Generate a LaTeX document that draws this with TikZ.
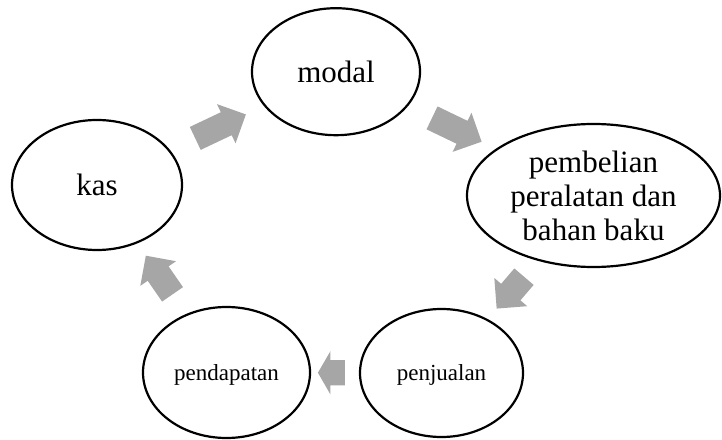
\documentclass[tikz,border=0pt]{standalone}
\usepackage{fontspec}
\setmainfont{Liberation Serif}
\usepackage{tikz}
\usetikzlibrary{shapes.geometric}
\usetikzlibrary{shapes.arrows}
\definecolor{arrowgray}{RGB}{166,166,166}

\begin{document}
\begin{tikzpicture}[x=1pt, y=1pt,
  phase/.style={ellipse, draw=black, line width=2.2pt, inner sep=0pt, align=center, font=\fontsize{31}{34}\selectfont},
  phase_small/.style={phase, text depth=0pt, font=\fontsize{23}{26}\selectfont},
  turn/.style={single arrow, draw=none, fill=arrowgray, inner xsep=0pt, inner ysep=12.5pt, single arrow head extend=9pt, sloped, allow upside down}]
\useasboundingbox (0,0) rectangle (722,439);

\node[name=modal, phase, minimum width=168pt, minimum height=127pt] at (336,367.3) {modal};
\node[name=pembelian, phase, minimum width=253pt, minimum height=143pt] at (593.5,243.5) {pembelian\\peralatan dan\\bahan baku};
\node[name=penjualan, phase_small, minimum width=163pt, minimum height=128pt] at (441.5,66) {penjualan};
\node[name=pendapatan, phase_small, minimum width=167pt, minimum height=131pt] at (226.5,66.5) {pendapatan};
\node[name=kas, phase, minimum width=170pt, minimum height=130pt] at (97,254) {kas};

% block arrows between the stages
\path(kas.center) -- node[turn, pos=0.493, minimum height=56pt]{} (modal.center);
\path(modal.center) -- node[turn, pos=0.447, minimum height=55pt]{} (pembelian.center);
\path(pembelian.center) -- node[turn, pos=0.52, minimum height=42pt]{} (penjualan.center);
\path(penjualan.center) -- node[turn, pos=0.495, minimum height=27pt, single arrow tip angle=120]{} (pendapatan.center);
\path(pendapatan.center) -- node[turn, pos=0.492, minimum height=47pt]{} (kas.center);

\end{tikzpicture}
\end{document}
